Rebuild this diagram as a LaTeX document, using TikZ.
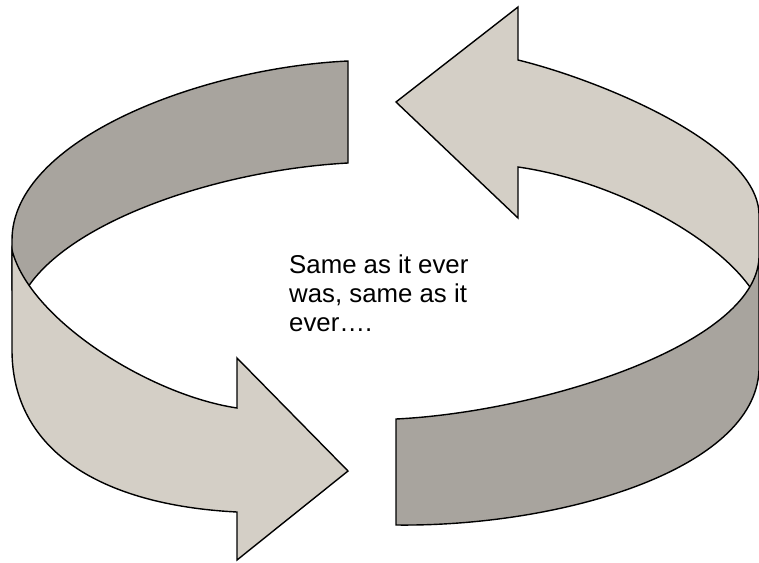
\documentclass[tikz,border=0pt]{standalone}
\usepackage{fontspec}
\setmainfont{Liberation Sans}
\usepackage{tikz}
\usepackage{xcolor}
\usetikzlibrary{positioning,calc}

\definecolor{bandlight}{RGB}{212,207,198}
\definecolor{banddark}{RGB}{168,164,158}

\begin{document}
\begin{tikzpicture}[
    x=1pt, y=-1pt,
    band/.style={draw=black, line width=1.4pt, line join=miter},
    lightband/.style={band, fill=bandlight},
    darkband/.style={band, fill=banddark},
    motto/.style={align=left, inner sep=0pt, font=\fontsize{25.8}{29}\selectfont}
  ]
    \useasboundingbox (0,0) rectangle (759,562);

    % left arrow: dark back band, then light front with head
    \draw[darkband] (348,61) .. controls (200,68) and (12,140) .. (12,240)
      -- (12,290) -- (26,290) .. controls (70,220) and (220,170) .. (348,163) -- cycle;
    \draw[lightband] (12,250) -- (12,350) .. controls (12,450) and (100,505) .. (237,512)
      -- (237,560) -- (348,471) -- (237,358) -- (237,408)
      .. controls (150,395) and (30,320) .. (12,250) -- cycle;

    % right arrow: light back band with head, then dark front
    \draw[lightband] (518,60) .. controls (600,80) and (759,145) .. (759,215)
      -- (759,290) -- (752,290) .. controls (715,235) and (610,180) .. (518,167)
      -- (518,218) -- (396,102) -- (518,7) -- cycle;
    \draw[darkband] (396,419) .. controls (540,412) and (755,345) .. (759,258)
      -- (759,370) .. controls (755,470) and (560,527) .. (396,525) -- cycle;

    % last line sits on the node's base
    \node[motto, anchor=base west] (motto) at (289,331)
      {Same as it ever\\was, same as it\\ever….};
  \end{tikzpicture}
\end{document}
